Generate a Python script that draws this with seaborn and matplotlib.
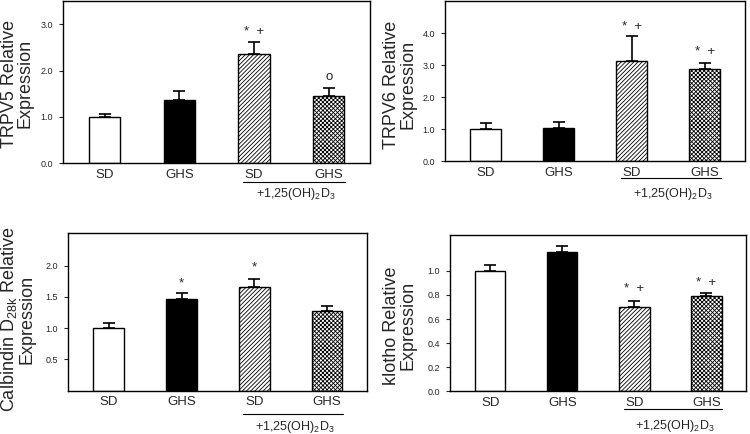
import pandas as pd
import matplotlib
matplotlib.use("Agg")
import matplotlib.pyplot as plt
import seaborn as sns

# %%
# Data
conditions = ["SD", "GHS", "SD+D3", "GHS+D3"]
tick_labels = ["SD", "GHS", "SD", "GHS"]

trpv5_mean = [1.0, 1.37, 2.36, 1.45]
trpv5_err = [0.06, 0.18, 0.25, 0.17]
trpv6_mean = [1.0, 1.03, 3.12, 2.88]
trpv6_err = [0.20, 0.19, 0.78, 0.19]
calb_mean = [1.0, 1.46, 1.65, 1.27]
calb_err = [0.08, 0.10, 0.14, 0.08]
klotho_mean = [1.0, 1.155, 0.70, 0.79]
klotho_err = [0.046, 0.055, 0.05, 0.03]

# significance marks: (bar index, y, text)
trpv5_marks = [(2, 2.83, "*  +"), (3, 1.87, "o")]
trpv6_marks = [(2, 4.2, "*  +"), (3, 3.41, "*  +")]
calb_marks = [(1, 1.72, "*"), (2, 1.97, "*")]
klotho_marks = [(2, 0.85, "*  +"), (3, 0.90, "*  +")]

# %%
sns.set_style("ticks")
plt.rcParams["font.family"] = ["Liberation Sans", "DejaVu Sans"]
plt.rcParams["hatch.linewidth"] = 0.6
plt.rcParams["mathtext.fontset"] = "custom"
plt.rcParams["mathtext.rm"] = "Liberation Sans"

faces = ["white", "black", "white", "white"]
hatches = [None, None, "////////", "xxxxxxxx"]

fig = plt.figure(figsize=(7.5, 4.34), dpi=100)

panels = [
    # rect, means, errs, marks, ylabel, ylim, yticks, label x, label y, group line y, group text y
    ([0.084, 0.6244, 0.409, 0.373], trpv5_mean, trpv5_err, trpv5_marks,
     "TRPV5 Relative\nExpression", (0, 3.5), [0, 1, 2, 3], -0.095, 0.49, -0.117, -0.142),
    ([0.593, 0.6283, 0.400, 0.369], trpv6_mean, trpv6_err, trpv6_marks,
     "TRPV6 Relative\nExpression", (0, 5.0), [0, 1, 2, 3, 4], -0.094, 0.48, -0.104, -0.157),
    ([0.0907, 0.0998, 0.3987, 0.3634], calb_mean, calb_err, calb_marks,
     "Calbindin D$_{\\mathregular{28k}}$ Relative\nExpression", (0, 2.52), [0.5, 1.0, 1.5, 2.0],
     -0.11, 0.45, -0.146, -0.18),
    ([0.600, 0.0984, 0.3947, 0.3608], klotho_mean, klotho_err, klotho_marks,
     "klotho Relative\nExpression", (0, 1.3), [0, 0.2, 0.4, 0.6, 0.8, 1.0], -0.112, 0.42, -0.111, -0.17),
]

for rect, means, errs, marks, ylabel, ylim, yticks, lx, ly, line_y, text_y in panels:
    ax = fig.add_axes(rect)
    df = pd.DataFrame({"cond": conditions, "val": means})
    sns.barplot(data=df, x="cond", y="val", order=conditions, ax=ax, color="white",
                saturation=1, width=0.42, edgecolor="black", linewidth=1.0, errorbar=None)
    for patch, fc, h in zip(ax.patches, faces, hatches):
        patch.set_facecolor(fc)
        if h:
            patch.set_hatch(h)
    # upward-only error bars
    pos = list(range(len(conditions)))
    ax.errorbar(pos, means, yerr=[[0] * len(errs), errs], fmt="none", ecolor="black",
                elinewidth=1.2, capsize=4.5, capthick=1.2, zorder=1)
    for i, y, t in marks:
        ax.text(i, y, t, ha="center", va="center", fontsize=9.5)

    ax.set_xlim(-0.56, 3.55)
    ax.set_ylim(*ylim)
    ax.set_yticks(yticks)
    ax.set_yticklabels([f"{v:.1f}" for v in yticks], fontsize=6.5)
    ax.set_xticks(pos)
    ax.set_xticklabels(tick_labels, fontsize=9.5)
    ax.tick_params(axis="x", length=0, pad=4)
    ax.tick_params(axis="y", length=3, width=0.8, pad=4, direction="out")
    ax.set_xlabel("")
    ax.set_ylabel(ylabel, fontsize=13, linespacing=0.95)
    ax.yaxis.set_label_coords(lx, ly)
    for s in ax.spines.values():
        s.set_visible(True)
        s.set_linewidth(1.0)
        s.set_color("black")

    # group bracket for the 1,25(OH)2D3-treated bars
    tr = ax.get_xaxis_transform()
    ax.plot([1.85, 3.22], [line_y, line_y], color="black", lw=0.8, transform=tr, clip_on=False)
    ax.text(2.56, text_y, r"+1,25(OH)$_\mathregular{2}$D$_\mathregular{3}$", transform=tr,
            ha="center", va="top", fontsize=9)

fig.savefig("out.png", dpi=100)
